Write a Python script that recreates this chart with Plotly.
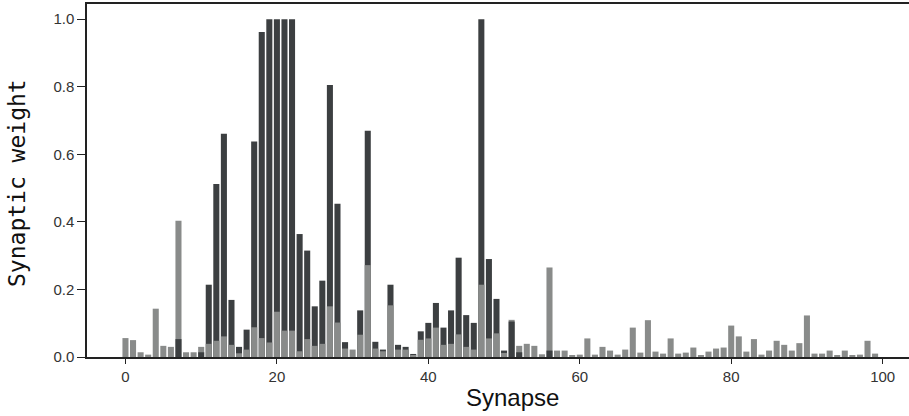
import plotly.graph_objects as go

synapse = list(range(100))

# final (dark) weights
final_w = [0, 0, 0, 0, 0, 0, 0, 0.053, 0, 0,
           0.014, 0.214, 0.512, 0.661, 0.169, 0.030, 0.081, 0.638, 0.962, 1.0,
           1.0, 1.0, 1.0, 0.364, 0.315, 0.150, 0.226, 0.805, 0.454, 0.044,
           0, 0.138, 0.670, 0.045, 0.022, 0.214, 0.036, 0.030, 0.009, 0.076,
           0.101, 0.160, 0.087, 0.138, 0.294, 0.124, 0.101, 1.0, 0.290, 0.172,
           0.019, 0.105, 0.014, 0, 0, 0, 0.019, 0, 0, 0,
           0, 0, 0, 0, 0, 0, 0, 0, 0, 0,
           0, 0, 0, 0, 0, 0, 0, 0, 0, 0,
           0, 0, 0, 0, 0, 0, 0, 0, 0, 0,
           0, 0, 0, 0, 0, 0, 0, 0, 0, 0]

# initial (light) weights
initial_w = [0.056, 0.050, 0.014, 0.007, 0.143, 0.033, 0.030, 0.403, 0.014, 0.014,
             0.030, 0.039, 0.048, 0.061, 0.036, 0.011, 0.022, 0.088, 0.056, 0.043,
             0.134, 0.078, 0.078, 0.017, 0.053, 0.033, 0.039, 0.150, 0.102, 0.025,
             0.022, 0.066, 0.272, 0.025, 0.017, 0.153, 0.022, 0.022, 0.003, 0.051,
             0.055, 0.087, 0.036, 0.039, 0.067, 0.030, 0.022, 0.214, 0.055, 0.070,
             0.012, 0.110, 0.033, 0.039, 0.033, 0.008, 0.265, 0.019, 0.019, 0.005,
             0.007, 0.055, 0.007, 0.030, 0.019, 0.007, 0.022, 0.087, 0.013, 0.109,
             0.016, 0.010, 0.055, 0.010, 0.013, 0.028, 0.005, 0.016, 0.025, 0.028,
             0.093, 0.061, 0.016, 0.053, 0.007, 0.019, 0.048, 0.036, 0.019, 0.041,
             0.123, 0.010, 0.010, 0.019, 0.005, 0.019, 0.005, 0.007, 0.048, 0.010]

x_ticks = [0, 20, 40, 60, 80, 100]
y_ticks = [0.0, 0.2, 0.4, 0.6, 0.8, 1.0]

DARK = "#3c3f41"
LIGHT = "#898b8a"

# taller bar behind, shorter bar in front
back_v, back_c, front_v, front_c = [], [], [], []
for f, i in zip(final_w, initial_w):
    if f >= i:
        back_v.append(f); back_c.append(DARK)
        front_v.append(i); front_c.append(LIGHT)
    else:
        back_v.append(i); back_c.append(LIGHT)
        front_v.append(f); front_c.append(DARK)

fig = go.Figure()
fig.add_trace(go.Bar(x=synapse, y=back_v, width=0.8,
                     marker=dict(color=back_c, line=dict(width=0)),
                     showlegend=False, hoverinfo="skip"))
fig.add_trace(go.Bar(x=synapse, y=front_v, width=0.8,
                     marker=dict(color=front_c, line=dict(width=0)),
                     showlegend=False, hoverinfo="skip"))

fig.update_layout(
    barmode="overlay",
    width=909, height=416,
    margin=dict(l=87, r=0, t=4, b=59),
    plot_bgcolor="white", paper_bgcolor="white",
    font=dict(family="Liberation Sans, Arial, sans-serif", size=15, color="#222"),
    annotations=[
        dict(text="Synapse", xref="paper", yref="paper",
             x=(512 - 87) / 822, y=-(397 - 357) / 353,
             xanchor="center", yanchor="middle", showarrow=False,
             font=dict(family="Liberation Sans, Arial, sans-serif", size=24, color="#111")),
        dict(text="Synaptic weight", xref="paper", yref="paper",
             x=-(87 - 17) / 822, y=(357 - 183) / 353, textangle=-90,
             xanchor="center", yanchor="middle", showarrow=False,
             font=dict(family="DejaVu Sans Mono, monospace", size=23, color="#111")),
    ],
)
fig.update_xaxes(
    range=[-5.08, 103.48], tickvals=x_ticks, ticks="outside", ticklen=5,
    tickwidth=1.3, tickcolor="#222", showline=True, linecolor="#222",
    linewidth=1.5, mirror=True, showgrid=False, zeroline=False,
    tickfont=dict(size=15, color="#333"),
)
fig.update_yaxes(
    range=[0, 1.045], tickvals=y_ticks, tickformat=".1f", ticks="outside", ticklen=8,
    tickwidth=1.3, tickcolor="#222", showline=True, linecolor="#222",
    linewidth=1.5, mirror=False, showgrid=False, zeroline=False,
    tickfont=dict(size=15, color="#333"),
)

fig.write_html("out.html")
